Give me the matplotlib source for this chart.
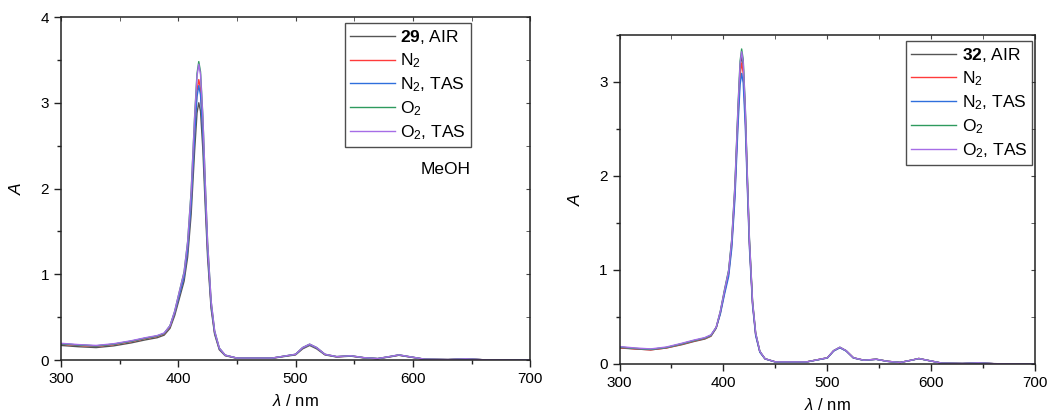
import matplotlib
matplotlib.use('Agg')
import matplotlib.pyplot as plt
from matplotlib.ticker import MultipleLocator

plt.rcParams['font.family'] = ['Liberation Sans', 'DejaVu Sans']
plt.rcParams['mathtext.fontset'] = 'custom'
plt.rcParams['mathtext.rm'] = 'Liberation Sans'
plt.rcParams['mathtext.it'] = 'Liberation Sans:italic'
plt.rcParams['mathtext.bf'] = 'Liberation Sans:bold'

# wavelengths (nm), shared by every spectrum
wl = [300, 315, 330, 345, 360, 372, 382, 388, 393, 397, 401, 405, 408, 411, 414, 416, 417.5,
      419, 421, 423, 425, 428, 431, 435, 440, 450, 480, 500, 506, 512, 518, 525,
      535, 547, 558, 570, 582, 588, 595, 610, 630, 645, 660, 700]

# compound 29 (MeOH)
a29_air = [.17, .155, .145, .165, .20, .235, .26, .29, .37, .52, .72, .92, 1.2, 1.7, 2.45, 2.88, 3.0,
           2.9, 2.45, 1.8, 1.2, .60, .30, .12, .05, .02, .02, .06, .13, .17, .13, .06,
           .035, .045, .025, .015, .04, .055, .04, .008, .005, .012, .003, 0]
a29_n2 = [.185, .17, .16, .18, .215, .25, .275, .305, .39, .55, .77, .98, 1.3, 1.85, 2.68, 3.14, 3.27,
          3.16, 2.67, 1.96, 1.3, .65, .32, .13, .055, .022, .022, .065, .14, .18, .14, .065,
          .038, .048, .027, .016, .043, .058, .042, .009, .005, .013, .003, 0]
a29_n2_tas = [.19, .175, .165, .185, .22, .255, .28, .31, .395, .55, .76, .97, 1.28, 1.82, 2.62, 3.07, 3.2,
              3.09, 2.61, 1.92, 1.28, .64, .32, .13, .055, .022, .022, .065, .14, .18, .14, .065,
              .038, .048, .027, .016, .043, .058, .042, .009, .005, .013, .003, 0]
a29_o2 = [.19, .175, .165, .185, .22, .255, .28, .31, .40, .57, .80, 1.03, 1.38, 1.97, 2.85, 3.34, 3.48,
          3.36, 2.84, 2.08, 1.38, .69, .34, .14, .057, .023, .023, .067, .145, .185, .145, .067,
          .04, .05, .028, .017, .045, .06, .044, .01, .005, .014, .003, 0]
a29_o2_tas = [.195, .18, .17, .19, .225, .26, .285, .315, .40, .57, .80, 1.02, 1.37, 1.95, 2.83, 3.31, 3.45,
              3.33, 2.82, 2.07, 1.37, .69, .34, .14, .057, .023, .023, .067, .145, .185, .145, .067,
              .04, .05, .028, .017, .045, .06, .044, .01, .005, .014, .003, 0]

# compound 32
a32_air = [.17, .16, .15, .17, .205, .24, .265, .295, .38, .55, .77, .98, 1.3, 1.85, 2.68, 3.15, 3.28,
           3.17, 2.68, 1.97, 1.3, .65, .32, .13, .055, .022, .022, .065, .14, .175, .14, .065,
           .04, .05, .028, .016, .043, .058, .042, .009, .005, .012, .003, 0]
a32_n2 = [.175, .16, .15, .17, .21, .245, .27, .30, .385, .54, .76, .96, 1.27, 1.81, 2.62, 3.07, 3.2,
          3.1, 2.62, 1.92, 1.27, .64, .31, .13, .054, .022, .022, .065, .14, .175, .14, .065,
          .04, .05, .028, .016, .043, .058, .042, .009, .005, .012, .003, 0]
a32_n2_tas = [.18, .165, .155, .175, .215, .25, .275, .305, .385, .53, .74, .93, 1.23, 1.75, 2.53, 2.97, 3.09,
              2.99, 2.53, 1.86, 1.23, .62, .30, .125, .053, .021, .021, .063, .137, .172, .137, .063,
              .039, .049, .027, .016, .042, .057, .041, .009, .005, .012, .003, 0]
a32_o2 = [.18, .165, .155, .175, .215, .25, .275, .305, .39, .56, .79, 1.0, 1.33, 1.9, 2.74, 3.22, 3.35,
          3.24, 2.74, 2.01, 1.33, .67, .33, .135, .056, .022, .022, .066, .142, .178, .142, .066,
          .04, .05, .028, .016, .043, .058, .042, .009, .005, .012, .003, 0]
a32_o2_tas = [.185, .17, .16, .18, .22, .255, .28, .31, .39, .56, .78, .99, 1.32, 1.88, 2.72, 3.19, 3.32,
              3.21, 2.72, 1.99, 1.32, .66, .33, .135, .056, .022, .022, .066, .142, .178, .142, .066,
              .04, .05, .028, .016, .043, .058, .042, .009, .005, .012, .003, 0]

colors = ['#555555', '#ff3b3b', '#2f6fdc', '#2e9a5e', '#a66de6']
labels29 = [r'$\mathbf{29}$, AIR', r'N$_2$', r'N$_2$, TAS', r'O$_2$', r'O$_2$, TAS']
labels32 = [r'$\mathbf{32}$, AIR', r'N$_2$', r'N$_2$, TAS', r'O$_2$', r'O$_2$, TAS']

fig = plt.figure(figsize=(10.5, 4.15), dpi=100)
ax1 = fig.add_axes([0.058, 0.1325, 0.447, 0.8265])
ax2 = fig.add_axes([0.590, 0.123, 0.396, 0.793])


def style(ax, ymax, anchor):
    ax.set_xlim(300, 700)
    ax.set_ylim(0, ymax)
    ax.xaxis.set_major_locator(MultipleLocator(100))
    ax.xaxis.set_minor_locator(MultipleLocator(50))
    ax.yaxis.set_major_locator(MultipleLocator(1))
    ax.yaxis.set_minor_locator(MultipleLocator(0.5))
    ax.tick_params(which='both', direction='out', top=False, right=False, labelsize=11,
                   color='#222222', width=1)
    ax.tick_params(which='major', length=5)
    ax.tick_params(which='minor', length=3)
    sec_x = ax.secondary_xaxis('top')
    sec_x.xaxis.set_major_locator(MultipleLocator(100))
    sec_x.xaxis.set_minor_locator(MultipleLocator(50))
    sec_x.tick_params(which='both', direction='in', labeltop=False, length=3, color='#444444')
    sec_x.spines['top'].set_visible(False)
    sec_y = ax.secondary_yaxis('right')
    sec_y.yaxis.set_major_locator(MultipleLocator(1))
    sec_y.yaxis.set_minor_locator(MultipleLocator(0.5))
    sec_y.tick_params(which='both', direction='in', labelright=False, length=3, color='#444444')
    sec_y.spines['right'].set_visible(False)
    for s in ax.spines.values():
        s.set_color('#222222')
        s.set_linewidth(1.1)
    ax.set_xlabel(r'$\it{\lambda}$ / nm', fontsize=12, labelpad=5)
    ax.set_ylabel(r'$\it{A}$', fontsize=12.5, labelpad=12)
    leg = ax.legend(loc='upper right', bbox_to_anchor=anchor, fontsize=12.5, frameon=True,
                    fancybox=False, edgecolor='#222222', handlelength=2.6,
                    handletextpad=0.3, labelspacing=0.3, borderpad=0.3, borderaxespad=0)
    leg.get_frame().set_linewidth(1.0)


for y, c, lab in zip([a29_air, a29_n2, a29_n2_tas, a29_o2, a29_o2_tas], colors, labels29):
    ax1.plot(wl, y, color=c, lw=1.0, label=lab)
for y, c, lab in zip([a32_air, a32_n2, a32_n2_tas, a32_o2, a32_o2_tas], colors, labels32):
    ax2.plot(wl, y, color=c, lw=1.0, label=lab)

style(ax1, 4, (0.874, 0.982))
style(ax2, 3.5, (0.993, 0.982))
ax1.text(0.872, 0.555, 'MeOH', transform=ax1.transAxes, ha='right', va='center', fontsize=12.5)

fig.savefig('out.png', dpi=100)
